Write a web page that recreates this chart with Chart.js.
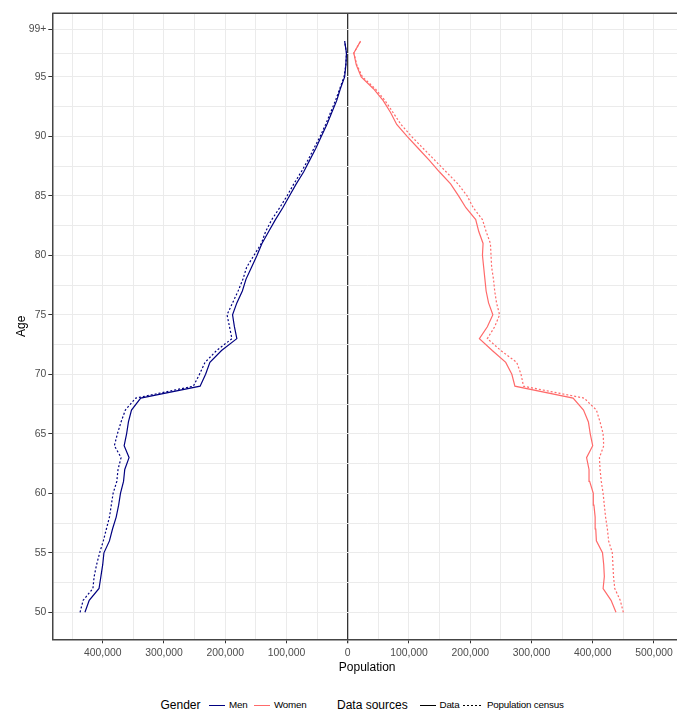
<!DOCTYPE html>
<html>
<head>
<meta charset="utf-8">
<script src="https://cdn.jsdelivr.net/npm/chart.js@4.4.1/dist/chart.umd.min.js"></script>
<style>
  html, body { margin: 0; padding: 0; background: #fff; overflow: hidden; }
  #wrap { position: relative; width: 682px; height: 711px; }
  #chart { position: absolute; left: 0; top: 0; }
  .lg { position: absolute; top: 697px; height: 16px; line-height: 16px; white-space: nowrap;
        font-family: "Liberation Sans", Arial, sans-serif; color: #000; }
  .t { font-size: 12px; }
  .s { font-size: 9.8px; letter-spacing: -0.2px; }
  .k { position: absolute; top: 705px; height: 1px; }
</style>
</head>
<body>
<div id="wrap">
  <canvas id="chart" width="682" height="690"></canvas>
  <span class="lg t" style="left:160.5px">Gender</span>
  <span class="k" style="left:209px;width:16px;background:#000080"></span>
  <span class="lg s" style="left:229px">Men</span>
  <span class="k" style="left:253.5px;width:16px;background:#ff6a6a"></span>
  <span class="lg s" style="left:274px">Women</span>
  <span class="lg t" style="left:337px">Data sources</span>
  <span class="k" style="left:419.5px;width:16px;background:#000"></span>
  <span class="lg s" style="left:439.5px">Data</span>
  <span class="k" style="left:463px;width:18px;background:repeating-linear-gradient(90deg,#000 0 2px,transparent 2px 4px)"></span>
  <span class="lg s" style="left:487px">Population census</span>
</div>
<script>
Chart.defaults.font.family = "'Liberation Sans', Arial, sans-serif";

// ages 50..98 (top tick is labelled "99+")
const ages = [50, 51, 52, 53, 54, 55, 56, 57, 58, 59,
              60, 61, 62, 63, 64, 65, 66, 67, 68, 69,
              70, 71, 72, 73, 74, 75, 76, 77, 78, 79,
              80, 81, 82, 83, 84, 85, 86, 87, 88, 89,
              90, 91, 92, 93, 94, 95, 96, 97, 98];

const menData = [429000, 422000, 406000, 403000, 400000, 398000, 389000, 384000, 378000, 374000,
                 371000, 366000, 364000, 357000, 365000, 361000, 358000, 353000, 338000, 241000,
                 232000, 225000, 206000, 181000, 185000, 188000, 181000, 172000, 166000, 157000,
                 148000, 140000, 129000, 118000, 106000, 95000, 84000, 72000, 62000, 52000,
                 43000, 34000, 26000, 18000, 12000, 5000, 3000, 2000, 5000];

const menCensus = [437000, 432000, 416000, 414000, 410000, 405000, 399000, 394000, 389000, 386000,
                   383000, 377000, 375000, 370000, 381000, 376000, 370000, 363000, 346000, 252000,
                   242000, 233000, 214000, 189000, 193000, 197000, 188000, 179000, 171000, 165000,
                   153000, 141000, 134000, 124000, 111000, 99000, 88000, 76000, 65000, 55000,
                   45000, 36000, 28000, 20000, 13000, 6000, 3000, 2000, 5000];

const womenData = [438000, 430000, 417000, 419000, 418000, 416000, 406000, 405000, 404000, 402000,
                   401000, 395000, 394000, 390000, 400000, 396000, 393000, 385000, 368000, 273000,
                   268000, 258000, 236000, 215000, 228000, 237000, 230000, 226000, 224000, 222000,
                   220000, 221000, 214000, 209000, 193000, 181000, 168000, 150000, 133000, 115000,
                   97000, 80000, 70000, 58000, 42000, 22000, 14000, 10000, 21000];

const womenCensus = [450000, 445000, 436000, 434000, 433000, 432000, 426000, 424000, 421000, 419000,
                     417000, 414000, 412000, 411000, 418000, 417000, 412000, 406000, 386000, 287000,
                     283000, 276000, 250000, 228000, 240000, 248000, 243000, 240000, 238000, 235000,
                     234000, 233000, 226000, 220000, 205000, 195000, 180000, 161000, 142000, 123000,
                     104000, 87000, 74000, 61000, 45000, 24000, 15000, 10000, 21000];

// gridline positions: every 50,000 (labels at 100,000) and every 2.5 years (labels at 5)
const popTicks = [-450000, -400000, -350000, -300000, -250000, -200000, -150000, -100000, -50000, 0,
                  50000, 100000, 150000, 200000, 250000, 300000, 350000, 400000, 450000, 500000];
const ageTicks = [50, 52.5, 55, 57.5, 60, 62.5, 65, 67.5, 70, 72.5, 75, 77.5, 80, 82.5, 85, 87.5, 90, 92.5, 95, 97, 99];
const ageLabels = {50: "50", 55: "55", 60: "60", 65: "65", 70: "70", 75: "75", 80: "80", 85: "85", 90: "90", 95: "95", 99: "99+"};

const MEN = "#000080";
const WOMEN = "#ff6a6a";

function pts(vals, sign) {
  return ages.map((a, i) => ({ x: sign * vals[i], y: a }));
}

const panelBorder = {
  id: "panelBorder",
  afterDraw(chart) {
    const a = chart.chartArea, c = chart.ctx;
    c.save();
    c.strokeStyle = "#444";
    c.lineWidth = 1.5;
    c.beginPath();
    c.moveTo(a.left, a.top);
    c.lineTo(a.right, a.top);
    c.stroke();
    c.restore();
  }
};

const isMajorPop = v => v % 100000 === 0;
const isMajorAge = v => ageLabels[v] !== undefined;

new Chart(document.getElementById("chart"), {
  type: "scatter",
  data: {
    datasets: [
      { label: "Men - Data", data: pts(menData, -1), borderColor: MEN, borderWidth: 1.2 },
      { label: "Men - Population census", data: pts(menCensus, -1), borderColor: MEN, borderWidth: 1.2, borderDash: [2, 2] },
      { label: "Women - Data", data: pts(womenData, 1), borderColor: WOMEN, borderWidth: 1.2 },
      { label: "Women - Population census", data: pts(womenCensus, 1), borderColor: WOMEN, borderWidth: 1.2, borderDash: [2, 2] }
    ]
  },
  options: {
    responsive: false,
    animation: false,
    devicePixelRatio: 1,
    showLine: true,
    layout: { padding: { top: 13.3, right: 0, bottom: 0, left: 0 } },
    elements: { point: { radius: 0 }, line: { tension: 0 } },
    plugins: { legend: { display: false }, tooltip: { enabled: false } },
    scales: {
      x: {
        type: "linear",
        min: -482300,
        max: 545800,
        afterBuildTicks: s => { s.ticks = popTicks.map(v => ({ value: v })); },
        afterFit: s => { s.height = 690 - 639.3; },
        grid: {
          color: c => (c.tick && c.tick.value === 0) ? "#333" : "#ebebeb",
          lineWidth: c => (c.tick && c.tick.value === 0) ? 1.3 : 1,
          tickColor: c => isMajorPop(c.tick.value) ? "#333" : "rgba(0,0,0,0)",
          tickLength: 4
        },
        border: { color: "#444", width: 1.5 },
        ticks: {
          autoSkip: false, maxRotation: 0, padding: 4, color: "#4d4d4d",
          font: { size: 10.4 },
          callback: v => isMajorPop(v) ? Math.abs(v).toLocaleString("en-US") : ""
        },
        title: { display: true, text: "Population", color: "#000", font: { size: 12 }, padding: { top: 0, bottom: 14.8 } }
      },
      y: {
        type: "linear",
        min: 47.73,
        max: 100.34,
        afterBuildTicks: s => { s.ticks = ageTicks.map(v => ({ value: v })); },
        afterFit: s => { s.width = 52.3; },
        grid: {
          color: "#ebebeb",
          lineWidth: 1,
          tickColor: c => isMajorAge(c.tick.value) ? "#333" : "rgba(0,0,0,0)",
          tickLength: 4
        },
        border: { color: "#444", width: 1.5 },
        ticks: {
          autoSkip: false, padding: 2, color: "#4d4d4d",
          font: { size: 10.4 },
          callback: v => ageLabels[v] || ""
        },
        title: { display: true, text: "Age", color: "#000", font: { size: 12 }, padding: { top: 14, bottom: 0 } }
      }
    }
  },
  plugins: [panelBorder]
});
</script>
</body>
</html>
